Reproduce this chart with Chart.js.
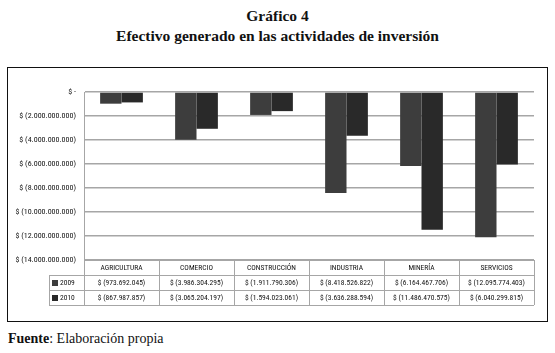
<!DOCTYPE html>
<html>
<head>
<meta charset="utf-8">
<script src="https://cdn.jsdelivr.net/npm/chart.js@4.4.1/dist/chart.umd.min.js"></script>
<style>
  html, body { margin: 0; padding: 0; background: #fff; }
  body { width: 555px; height: 353px; position: relative; overflow: hidden; font-family: "Liberation Serif", "DejaVu Serif", serif; color: #111; }
  .title { position: absolute; left: 0; width: 555px; text-align: center; font-weight: bold; font-size: 15.5px; }
  #box { position: absolute; left: 7px; top: 67px; width: 539px; height: 253px; border: 1.5px solid #111; }
  #box canvas { display: block; }
  .foot { position: absolute; left: 8px; top: 331px; font-size: 14px; }
</style>
</head>
<body>
<div class="title" style="top:7px">Gráfico 4</div>
<div class="title" style="top:27px">Efectivo generado en las actividades de inversión</div>
<div id="box"><canvas id="chart" width="539" height="253"></canvas></div>
<div class="foot"><b>Fuente</b>: Elaboración propia</div>
<script>
  const categories = ["AGRICULTURA", "COMERCIO", "CONSTRUCCIÓN", "INDUSTRIA", "MINERÍA", "SERVICIOS"];
  const seriesNames = ["2009", "2010"];
  const values2009 = [-973692045, -3986304295, -1911790306, -8418526822, -6164467706, -12095774403];
  const values2010 = [-867987857, -3065204197, -1594023061, -3636288594, -11486470575, -6040299815];
  const colors = ["#3d3d3d", "#292929"];
  const yTicks = [0, -2e9, -4e9, -6e9, -8e9, -10e9, -12e9, -14e9];

  const narrow = '"Liberation Sans Narrow", "Roboto Condensed", sans-serif';

  function money(v) {
    if (v === 0) return "$ -";
    const s = Math.round(Math.abs(v)).toString().replace(/\B(?=(\d{3})+(?!\d))/g, ".");
    return v < 0 ? "$ (" + s + ")" : "$ " + s;
  }

  // data table under the plot, columns taken from the x scale
  const dataTable = {
    id: "dataTable",
    afterDraw(chart) {
      const ctx = chart.ctx;
      const xs = chart.scales.x;
      const area = chart.chartArea;
      const colW = (area.right - area.left) / categories.length;
      const rowH = 15;
      const top = area.bottom;
      const labelLeft = area.left - 35;
      const rows = [values2009, values2010];
      ctx.save();
      ctx.strokeStyle = "#a6a6a6";
      ctx.lineWidth = 1;
      ctx.beginPath();
      ctx.moveTo(area.left, top + 0.5);
      ctx.lineTo(area.right, top + 0.5);
      for (let r = 1; r <= 3; r += 1) {
        const y = Math.round(top + r * rowH) + 0.5;
        ctx.moveTo(labelLeft, y);
        ctx.lineTo(area.right, y);
      }
      ctx.moveTo(labelLeft + 0.5, top + rowH);
      ctx.lineTo(labelLeft + 0.5, top + 3 * rowH);
      for (let i = 0; i <= categories.length; i += 1) {
        const x = Math.round(area.left + i * colW) + 0.5;
        ctx.moveTo(x, top);
        ctx.lineTo(x, top + 3 * rowH);
      }
      ctx.stroke();

      ctx.fillStyle = "#111";
      ctx.font = "7.5px " + narrow;
      ctx.textAlign = "center";
      ctx.textBaseline = "middle";
      categories.forEach((c, i) => {
        const cx = xs.getPixelForValue(i);
        ctx.fillText(c, cx, top + rowH / 2 + 0.5);
        rows.forEach((vals, r) => {
          ctx.fillText(money(vals[i]), cx, top + (r + 1.5) * rowH + 0.5);
        });
      });
      ctx.textAlign = "left";
      seriesNames.forEach((name, r) => {
        const cy = top + (r + 1.5) * rowH + 0.5;
        ctx.fillStyle = colors[r];
        ctx.fillRect(labelLeft + 3, cy - 3, 6, 6);
        ctx.fillStyle = "#111";
        ctx.fillText(name, labelLeft + 11, cy);
      });
      ctx.restore();
    }
  };

  new Chart(document.getElementById("chart"), {
    type: "bar",
    data: {
      labels: categories,
      datasets: [
        { label: seriesNames[0], data: values2009, backgroundColor: colors[0], borderWidth: 0 },
        { label: seriesNames[1], data: values2010, backgroundColor: colors[1], borderWidth: 0 },
      ],
    },
    options: {
      responsive: false,
      animation: false,
      layout: { padding: { top: 24, right: 13, bottom: 61, left: 0 } },
      categoryPercentage: 0.57,
      barPercentage: 1,
      plugins: {
        legend: { display: false },
        tooltip: { enabled: false },
      },
      scales: {
        x: {
          display: false,
        },
        y: {
          min: -14e9,
          max: 0,
          afterFit(scale) { scale.width = 76; },
          afterBuildTicks(scale) { scale.ticks = yTicks.map((v) => ({ value: v })); },
          border: { display: true, color: "#a6a6a6", width: 1 },
          grid: { color: "#a6a6a6", lineWidth: 1.5, drawTicks: false },
          ticks: {
            padding: 8,
            color: "#111",
            font: { family: narrow, size: 8 },
            callback: (v) => money(v),
          },
        },
      },
    },
    plugins: [dataTable],
  });
</script>
</body>
</html>
